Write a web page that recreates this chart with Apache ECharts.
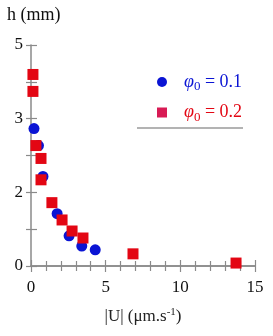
<!DOCTYPE html>
<html><head><meta charset="utf-8">
<script src="https://cdn.jsdelivr.net/npm/echarts@6/dist/echarts.min.js"></script>
<style>html,body{margin:0;padding:0;background:#fff}#c{width:273px;height:336px}</style>
</head><body><div id="c"></div>
<script>
// Data (x: |U| in µm/s, y: position on the h axis in tick units)
const seriesNames = ['φ0 = 0.1', 'φ0 = 0.2'];
const phi01 = [[0.2,3.73],[0.5,3.27],[0.8,2.43],[1.75,1.42],[2.55,0.82],[3.4,0.54],[4.3,0.44]];
const phi02 = [[0.13,5.2],[0.13,4.74],[0.33,3.27],[0.67,2.92],[0.67,2.34],[1.4,1.72],[2.08,1.25],[2.75,0.95],[3.48,0.76],[6.83,0.33],[13.73,0.08]];
const xTicks = [0,5,10,15];
const yTickLabels = {0:'0',2:'2',4:'3',6:'5'};

const serif = 'Liberation Serif';
const blue = '#0a14d4', red = '#e30613';
const axisGray = '#8a8a8a';
const chart = echarts.init(document.getElementById('c'), null, {renderer:'canvas'});
const hiddenAxisCommon = {
  axisLabel:{show:false}, splitLine:{show:false},
  axisLine:{show:true, lineStyle:{color:axisGray, width:1.5}},
  axisTick:{show:true, inside:true, length:5, lineStyle:{color:axisGray, width:1.2}}
};
chart.setOption({
  animation:false,
  textStyle:{fontFamily:serif},
  grid:{left:31, right:18, top:45, bottom:70},
  xAxis:[{
    type:'value', min:xTicks[0], max:xTicks[xTicks.length-1], interval:5,
    axisLine:{show:true, lineStyle:{color:axisGray, width:1.5}},
    axisTick:{show:true, inside:true, length:6, lineStyle:{color:axisGray, width:1.2}},
    minorTick:{show:true, splitNumber:5, length:5, lineStyle:{color:axisGray, width:1.2}},
    splitLine:{show:false},
    axisLabel:{fontFamily:serif, fontSize:17, color:'#111', margin:13},
    name:'{t||U| (μm.s}{sup|-1}{t|)}', nameLocation:'middle', nameGap:41,
    nameTextStyle:{fontFamily:serif, rich:{t:{fontFamily:serif, fontSize:17, color:'#222'}, sup:{fontFamily:serif, fontSize:11, color:'#222', verticalAlign:'top', padding:[0,0,8,0]}}}
  },{
    type:'value', position:'top', min:0, max:15, interval:5, ...hiddenAxisCommon,
    axisTick:{show:true, inside:true, length:6, lineStyle:{color:axisGray, width:1.2}},
    minorTick:{show:true, splitNumber:5, length:5, lineStyle:{color:axisGray, width:1.2}}
  }],
  yAxis:[{
    type:'value', min:0, max:6, interval:1,
    axisLine:{show:false},
    axisTick:{show:true, inside:true, length:6, lineStyle:{color:axisGray, width:1.2}},
    splitLine:{show:false},
    axisLabel:{fontFamily:serif, fontSize:17, color:'#111', margin:8,
      formatter:v => (yTickLabels[v] !== undefined ? yTickLabels[v] : '')}
  },{
    type:'value', position:'right', min:0, max:6, interval:1, ...hiddenAxisCommon
  }],
  legend:{
    orient:'vertical', left:152, top:68, itemGap:10, itemWidth:10, itemHeight:10,
    data:[
      {name:seriesNames[0], icon:'circle', itemStyle:{color:blue}, textStyle:{color:blue}},
      {name:seriesNames[1], icon:'rect', itemStyle:{color:'#d81b55'}, textStyle:{color:red}}
    ],
    formatter:n => {const p = n.split(' = '); return '{phi|φ}{sub|0}{eq| = ' + p[1] + '}';},
    textStyle:{fontFamily:serif, fontSize:17, padding:[0,0,0,12],
      rich:{phi:{fontFamily:serif, fontSize:18, fontStyle:'italic'},
            sub:{fontFamily:serif, fontSize:13, verticalAlign:'bottom', padding:[10,0,0,0]},
            eq:{fontFamily:serif, fontSize:18}}}
  },
  graphic:[
    {type:'text', left:7, top:6, style:{text:'h (mm)', fontFamily:serif, fontSize:18, fill:'#111'}},
    {type:'line', shape:{x1:137, y1:128, x2:243, y2:128}, style:{stroke:'#9a9a9a', lineWidth:1.5}}
  ],
  series:[
    {name:seriesNames[0], type:'scatter', data:phi01, symbol:'circle', symbolSize:11, itemStyle:{color:blue, opacity:1}},
    {name:seriesNames[1], type:'scatter', data:phi02, symbol:'rect', symbolSize:11, itemStyle:{color:red, opacity:1}}
  ]
});
</script></body></html>
